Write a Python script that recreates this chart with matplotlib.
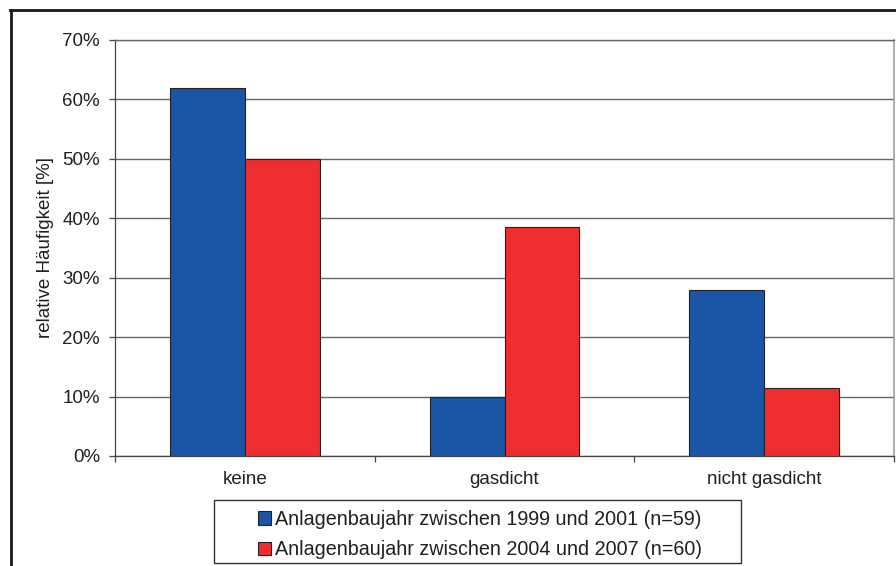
import matplotlib
matplotlib.use("Agg")
import matplotlib.pyplot as plt
from matplotlib.lines import Line2D
from matplotlib.patches import Rectangle
from matplotlib.ticker import FixedLocator, FuncFormatter, NullFormatter
import numpy as np

# Data
categories = ["keine", "gasdicht", "nicht gasdicht"]
series_names = [
    "Anlagenbaujahr zwischen 1999 und 2001 (n=59)",
    "Anlagenbaujahr zwischen 2004 und 2007 (n=60)",
]
values_1999_2001 = [62.0, 10.0, 28.0]
values_2004_2007 = [50.0, 38.5, 11.5]
y_ticks = [0, 10, 20, 30, 40, 50, 60, 70]
y_label = "relative Häufigkeit [%]"

W, H = 896, 566
plt.rcParams["font.family"] = ["Liberation Sans", "DejaVu Sans"]
text_color = "#231f20"
fs = 13.5
fs_legend = 14.2

fig = plt.figure(figsize=(W / 100, H / 100), dpi=100)
fig.patch.set_facecolor("white")


def fx(px):
    return px / W


def fy(py):
    return 1 - py / H


left, right, top, bottom = 115, 894, 40, 456
ax = fig.add_axes([fx(left), fy(bottom), (right - left) / W, (bottom - top) / H])

centers = np.arange(len(categories)) + 0.5
bw = 0.288
blue = "#1a56a5"
red = "#ee2e2f"
ax.bar(centers - bw / 2, values_1999_2001, width=bw, color=blue,
       edgecolor="#222222", linewidth=0.8, label=series_names[0], zorder=3)
ax.bar(centers + bw / 2, values_2004_2007, width=bw, color=red,
       edgecolor="#222222", linewidth=0.8, label=series_names[1], zorder=3)

ax.set_xlim(0, len(categories))
ax.set_ylim(0, 70)

# y axis
ax.yaxis.set_major_locator(FixedLocator(y_ticks))
ax.yaxis.set_major_formatter(FuncFormatter(lambda v, p: f"{v:.0f}%"))
ax.tick_params(axis="y", which="major", direction="out", length=4.3, width=0.9,
               color="#444444", pad=6.5, labelsize=fs, labelcolor=text_color)
ax.grid(axis="y", color="#666666", linewidth=1.0, zorder=0)

# x axis: ticks on category boundaries, labels at centres
ax.xaxis.set_major_locator(FixedLocator(np.arange(len(categories) + 1)))
ax.xaxis.set_major_formatter(NullFormatter())
ax.xaxis.set_minor_locator(FixedLocator(centers))
ax.set_xticklabels(categories, minor=True)
ax.tick_params(axis="x", which="major", direction="out", length=4.3, width=0.9,
               color="#444444")
ax.tick_params(axis="x", which="minor", length=0, pad=10.8, labelsize=fs,
               labelcolor=text_color)

for side in ("left", "bottom"):
    ax.spines[side].set_color("#444444")
    ax.spines[side].set_linewidth(0.9)
ax.spines["top"].set_color("#666666")
ax.spines["top"].set_linewidth(1.0)
ax.spines["right"].set_color("#a0a0a0")
ax.spines["right"].set_linewidth(1.2)

ax.set_ylabel(y_label, fontsize=fs, color=text_color, va="center")
ax.yaxis.set_label_coords((46 - left) / (right - left), 0.5)

# legend box
fig.patches.append(Rectangle((fx(214), fy(563)), fx(741) - fx(214), fy(500) - fy(563),
                             transform=fig.transFigure, facecolor="white",
                             edgecolor="#333333", linewidth=1.0, zorder=1))
handles, labels = ax.get_legend_handles_labels()
leg = fig.legend(handles, labels, loc="upper left",
                 bbox_to_anchor=(fx(258), fy(510)), bbox_transform=fig.transFigure,
                 frameon=False, fontsize=fs_legend, borderpad=0, borderaxespad=0,
                 handlelength=0.66, handleheight=0.66, handletextpad=0.2,
                 labelspacing=0.58, labelcolor=text_color)
leg.set_zorder(5)

# outer frame of the figure
fig.add_artist(Line2D([fx(10.5), fx(10.5)], [0, fy(9.5)], transform=fig.transFigure,
                      color="#1a1a1a", linewidth=2.0))
fig.add_artist(Line2D([fx(9.5), 1], [fy(9.5), fy(9.5)], transform=fig.transFigure,
                      color="#1a1a1a", linewidth=2.0))

fig.savefig("out.png", dpi=100)
